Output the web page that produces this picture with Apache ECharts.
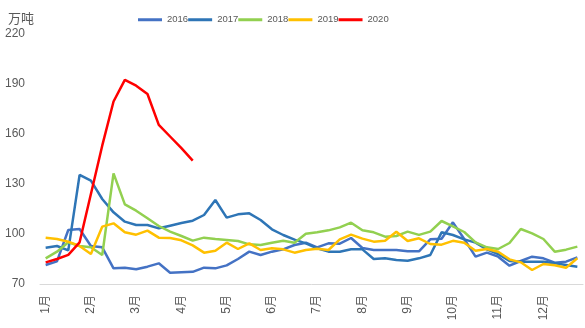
<!DOCTYPE html>
<html>
<head>
<meta charset="utf-8">
<script src="https://cdn.jsdelivr.net/npm/echarts@6/dist/echarts.min.js"></script>
<style>
  html, body { margin: 0; padding: 0; background: #fff; }
  #chart { width: 585px; height: 328px; }
</style>
</head>
<body>
<div id="chart"></div>
<script>
// Weekly inventory, four readings per month (万吨)
const months = ['1月', '2月', '3月', '4月', '5月', '6月', '7月', '8月', '9月', '10月', '11月', '12月'];
const weeksPerMonth = ['1', '2', '3', '4'];

const years = ['2016', '2017', '2018', '2019', '2020'];

const s2016 = [81.4, 83.6, 102.4, 103, 92.8, 92, 79.4, 79.8, 78.8, 80.4, 82.4, 76.8,
  77.1, 77.3, 79.8, 79.4, 81.2, 85, 89.4, 87.4, 89.4, 90.8, 93.4, 94.8,
  92, 94.4, 94.2, 97.6, 91.6, 90.4, 90.4, 90.4, 89.6, 89.6, 96.8, 97.2,
  107, 97, 86.4, 88.8, 86.4, 81, 83.8, 86.4, 85.4, 82.8, 83.4, 86];

const s2017 = [91.8, 92.8, 90.2, 135.5, 132, 121, 113, 107.4, 105.4, 105.4, 103.4, 105,
  106.6, 108, 111.4, 120.4, 109.8, 111.8, 112.4, 108.4, 102.8, 99.4, 96.6, 94.4,
  91.4, 89.4, 89.4, 90.8, 90.8, 85, 85.4, 84.4, 84, 85.4, 87.4, 101,
  99.4, 96.8, 94.8, 90.8, 88, 83.8, 83.4, 83.4, 83.4, 82.4, 81.4, 80.4];

const s2018 = [85.4, 89.4, 95, 92.8, 92, 87.4, 136.4, 117.8, 114, 109.4, 104.8, 101.4,
  98.8, 96, 97.8, 97, 96.4, 95.8, 93.8, 93.4, 94.8, 96, 94.8, 100.2,
  101, 102.2, 104, 106.8, 102.2, 101, 98.4, 98.8, 101.4, 99.5, 101.4, 107.8,
  104.6, 101.2, 95, 92, 91, 94.6, 103, 100.4, 97, 89.4, 90.6, 92.4];

const s2019 = [97.8, 97, 95.4, 92.8, 88, 104.4, 106.4, 101, 99.6, 102, 97.8, 97.6,
  96.2, 93.2, 88.8, 90, 94.8, 91, 94.4, 90.4, 91.4, 90.8, 88.8, 90.4,
  91.2, 90.4, 96.8, 99.6, 97.2, 95.4, 96, 101.4, 95.8, 97.4, 94, 93.6,
  95.9, 94.8, 90, 91, 89.4, 84.8, 83, 78.4, 82, 81.3, 79.8, 85.4];

const s2020 = [83, 85, 87.5, 95, 124, 153, 179.5, 192.5, 189, 184, 165.5, 158.5,
  151.5, 144];

const yTicks = [70, 100, 130, 160, 190, 220];

// one category per reading, e.g. "3月2"
const categories = [];
months.forEach(m => weeksPerMonth.forEach(w => categories.push(m + w)));

const colors = ['#4472C4', '#2E75B6', '#92D050', '#FFC000', '#FF0000'];
const seriesData = [s2016, s2017, s2018, s2019, s2020];

const fontFamily = '"Liberation Sans", "Noto Sans CJK SC", sans-serif';
const textColor = '#595959';

const chart = echarts.init(document.getElementById('chart'), null, { renderer: 'canvas' });

chart.setOption({
  animation: false,
  backgroundColor: '#ffffff',
  color: colors,
  title: {
    text: '万吨',
    left: 3,
    top: 8,
    textStyle: { fontSize: 13, fontWeight: 'normal', color: textColor, fontFamily: fontFamily }
  },
  legend: {
    data: years,
    left: 133,
    top: 10,
    icon: 'rect',
    itemWidth: 24,
    itemHeight: 3,
    itemGap: 0,
    textStyle: { fontSize: 9.5, color: textColor, fontFamily: fontFamily }
  },
  grid: { left: 40, right: 2, top: 34, bottom: 44, containLabel: false },
  xAxis: {
    type: 'category',
    data: categories,
    boundaryGap: true,
    axisLine: { show: true, lineStyle: { color: '#D9D9D9', width: 1 } },
    axisTick: { show: false },
    splitLine: { show: false },
    axisLabel: {
      rotate: 90,
      margin: 11,
      fontSize: 12,
      color: textColor,
      fontFamily: fontFamily,
      interval: (index) => index % 4 === 0,
      formatter: (value) => value.slice(0, -1)
    }
  },
  yAxis: {
    type: 'value',
    min: yTicks[0],
    max: yTicks[yTicks.length - 1],
    interval: 30,
    axisLine: { show: false },
    axisTick: { show: false },
    splitLine: { show: false },
    axisLabel: { margin: 15, fontSize: 12, color: textColor, fontFamily: fontFamily }
  },
  series: years.map((y, k) => ({
    name: y,
    type: 'line',
    data: seriesData[k],
    symbol: 'none',
    smooth: false,
    lineStyle: { width: 2.5, color: colors[k] },
    itemStyle: { color: colors[k] }
  }))
});
</script>
</body>
</html>
